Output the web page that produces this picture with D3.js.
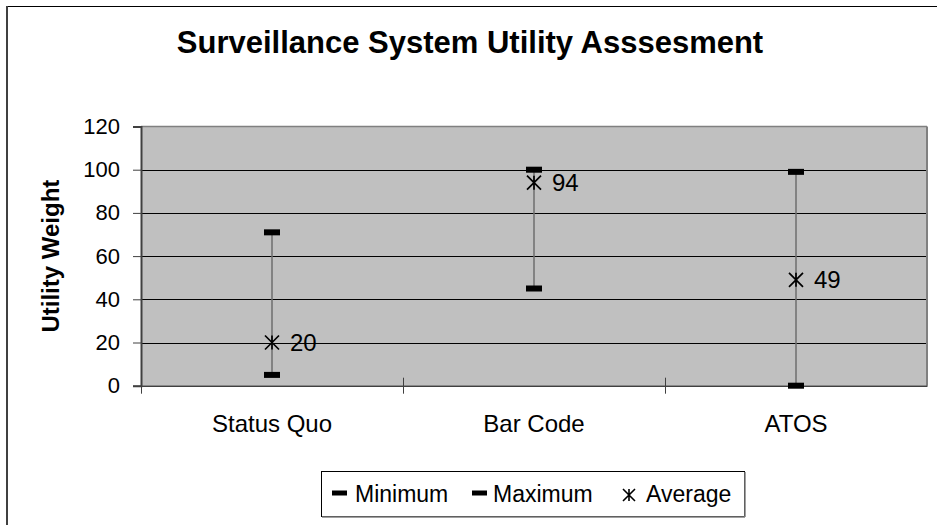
<!DOCTYPE html>
<html>
<head>
<meta charset="utf-8">
<script src="https://cdn.jsdelivr.net/npm/d3@7"></script>
<style>
html,body{margin:0;padding:0;background:#fff;}
svg{display:block;font-family:"Liberation Sans",Arial,sans-serif;}
</style>
</head>
<body>
<svg id="chart" width="937" height="525"></svg>
<script>
const categories = ["Status Quo", "Bar Code", "ATOS"];
const minimum = [5, 45, 0];
const maximum = [71, 100, 99];
const average = [20, 94, 49];
const yTicks = [0, 20, 40, 60, 80, 100, 120];
const legendLabels = ["Minimum", "Maximum", "Average"];

const svg = d3.select("#chart");
const FONT = "Liberation Sans, Arial, sans-serif";
const m = {left: 141, right: 927, top: 126.5, bottom: 385.7};

// outer frame
svg.append("rect").attr("x", 6.5).attr("y", 6.5).attr("width", 940).attr("height", 530)
  .attr("fill", "#fff").attr("stroke", "#000").attr("stroke-width", 1);
svg.append("line").attr("x1", 7).attr("x2", 7).attr("y1", 6).attr("y2", 525)
  .attr("stroke", "#404040").attr("stroke-width", 2);

const x = d3.scaleBand().domain(categories).range([m.left, m.right]);
const y = d3.scaleLinear().domain([0, 120]).range([m.bottom, m.top]);

// plot background
svg.append("rect").attr("x", m.left).attr("y", m.top)
  .attr("width", m.right - m.left).attr("height", m.bottom - m.top)
  .attr("fill", "#c0c0c0");

// gridlines
svg.append("g").selectAll("line").data(yTicks.filter(d => d > 0 && d < 120)).join("line")
  .attr("x1", m.left).attr("x2", m.right)
  .attr("y1", d => Math.round(y(d)) + 0.5).attr("y2", d => Math.round(y(d)) + 0.5)
  .attr("stroke", "#000").attr("stroke-width", 1);

// plot border top/right
svg.append("line").attr("x1", m.left).attr("x2", m.right).attr("y1", m.top).attr("y2", m.top)
  .attr("stroke", "#808080").attr("stroke-width", 1.5);
svg.append("line").attr("x1", m.right).attr("x2", m.right).attr("y1", m.top).attr("y2", m.bottom)
  .attr("stroke", "#808080").attr("stroke-width", 2);

// y axis
const yAxis = d3.axisLeft(y).tickValues(yTicks).tickSize(8).tickPadding(13);
const gy = svg.append("g").attr("transform", `translate(${m.left},0)`).call(yAxis);
gy.select(".domain").attr("stroke", "#404040").attr("stroke-width", 2);
gy.selectAll(".tick line").attr("stroke", "#404040");
gy.selectAll(".tick text").attr("font-size", 22).attr("fill", "#000").attr("font-family", FONT);

// x axis
const xAxis = d3.axisBottom(x).tickSize(0).tickPadding(29);
const gx = svg.append("g").attr("transform", `translate(0,${m.bottom})`).call(xAxis);
gx.select(".domain").attr("stroke", "#404040").attr("stroke-width", 1.5);
gx.selectAll(".tick text").attr("font-size", 24).attr("fill", "#000").attr("font-family", FONT);
// category boundary ticks
const bounds = categories.map(c => x(c));
svg.append("g").selectAll("line").data(bounds).join("line")
  .attr("x1", d => d + 0.5).attr("x2", d => d + 0.5)
  .attr("y1", m.bottom - 8).attr("y2", m.bottom + 8)
  .attr("stroke", "#404040").attr("stroke-width", 1);

const cx = i => x(categories[i]) + x.bandwidth() / 2;

// error bars
const g = svg.append("g");
g.selectAll("line.range").data(categories).join("line")
  .attr("x1", (d, i) => cx(i)).attr("x2", (d, i) => cx(i))
  .attr("y1", (d, i) => y(minimum[i])).attr("y2", (d, i) => y(maximum[i]))
  .attr("stroke", "#6e6e6e").attr("stroke-width", 1.5);

function dash(sel, vals) {
  sel.selectAll(null).data(vals).join("rect")
    .attr("x", (d, i) => cx(i) - 8).attr("y", d => y(d) - 3)
    .attr("width", 16).attr("height", 6).attr("fill", "#000");
}
dash(g.append("g"), minimum);
dash(g.append("g"), maximum);

// average markers
const ag = g.append("g");
average.forEach((v, i) => {
  const X = cx(i), Y = y(v), s = 7;
  ag.append("path")
    .attr("d", `M${X - s},${Y - s}L${X + s},${Y + s}M${X - s},${Y + s}L${X + s},${Y - s}M${X},${Y - s}L${X},${Y + s}`)
    .attr("stroke", "#000").attr("stroke-width", 1.7).attr("fill", "none");
  ag.append("text").attr("x", X + 18).attr("y", Y + 8.5).attr("font-size", 24).text(v);
});

// title
svg.append("text").attr("x", 470).attr("y", 53).attr("text-anchor", "middle")
  .attr("font-size", 31).attr("font-weight", "bold").text("Surveillance System Utility Asssesment");

// y axis title
svg.append("text").attr("transform", `translate(59,${(m.top + m.bottom) / 2}) rotate(-90)`)
  .attr("text-anchor", "middle").attr("font-size", 24).attr("font-weight", "bold").text("Utility Weight");

// legend
const lg = svg.append("g");
lg.append("rect").attr("x", 321.5).attr("y", 471.5).attr("width", 423).attr("height", 45)
  .attr("fill", "#fff").attr("stroke", "#000").attr("stroke-width", 1);
lg.append("line").attr("x1", 322).attr("x2", 745).attr("y1", 517).attr("y2", 517).attr("stroke", "#808080").attr("stroke-width", 1.5);
lg.append("line").attr("x1", 745).attr("x2", 745).attr("y1", 472).attr("y2", 517).attr("stroke", "#808080").attr("stroke-width", 1.5);
const legX = [332, 472, 622];
const textX = [355, 493, 646];
legendLabels.forEach((t, i) => {
  const lx = legX[i], ly = 493;
  if (i < 2) {
    lg.append("rect").attr("x", lx).attr("y", ly - 2.5).attr("width", 15).attr("height", 5).attr("fill", "#000");
  } else {
    const s = 6, X = lx + 7, Y = ly + 2;
    lg.append("path")
      .attr("d", `M${X - s},${Y - s}L${X + s},${Y + s}M${X - s},${Y + s}L${X + s},${Y - s}M${X},${Y - s}L${X},${Y + s}`)
      .attr("stroke", "#000").attr("stroke-width", 1.6);
  }
  lg.append("text").attr("x", textX[i]).attr("y", ly + 8.5).attr("font-size", 23).text(t);
});
</script>
</body>
</html>
